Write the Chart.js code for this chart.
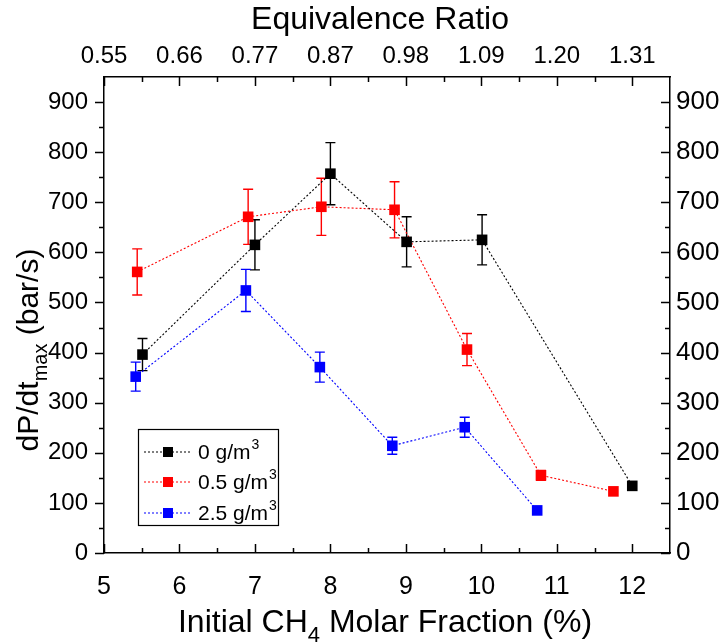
<!DOCTYPE html>
<html>
<head>
<meta charset="utf-8">
<title>dP/dt max vs CH4 fraction</title>
<script src="https://cdn.jsdelivr.net/npm/chart.js@4.4.0/dist/chart.umd.min.js"></script>
<style>
  body { margin: 0; background: #fff; }
  canvas { display: block; }
</style>
</head>
<body>
<canvas id="dpdt-chart" width="723" height="643"></canvas>
<script>
// data //
const xTicks = [5, 6, 7, 8, 9, 10, 11, 12];
const phiLabels = ['0.55', '0.66', '0.77', '0.87', '0.98', '1.09', '1.20', '1.31'];
const yTicks = [0, 100, 200, 300, 400, 500, 600, 700, 800, 900];

const seriesNames = ['0 g/m³', '0.5 g/m³', '2.5 g/m³'];

// 0 g/m3 coal dust
const dust0X = [5.51, 7.0, 8.0, 9.01, 10.01, 12.0];
const dust0Y = [396, 615, 757, 621, 625, 134];
const dust0Err = [32, 50, 62, 50, 50, 0];

// 0.5 g/m3
const dust05X = [5.44, 6.91, 7.88, 8.85, 9.81, 10.79, 11.75];
const dust05Y = [561, 671, 691, 685, 406, 155, 123];
const dust05Err = [46, 55, 57, 56, 32, 10, 0];

// 2.5 g/m3
const dust25X = [5.42, 6.88, 7.86, 8.82, 9.78, 10.74];
const dust25Y = [352, 524, 371, 214, 251, 85];
const dust25Err = [29, 42, 30, 17, 20, 0];

const FONT = '"Liberation Sans", Arial, sans-serif';

function toPoints(xs, ys) {
  return xs.map((x, i) => ({ x: x, y: ys[i] }));
}

function makeSeries(label, xs, ys, errs, color) {
  return {
    label: label,
    data: toPoints(xs, ys),
    errors: errs,
    borderColor: color,
    backgroundColor: color,
    borderWidth: 1.1,
    borderDash: [2, 2],
    pointStyle: 'rect',
    pointRadius: 7.5,
    pointHoverRadius: 7.5,
    pointBorderWidth: 0,
    showLine: true,
    tension: 0
  };
}

// helpers //
function drawRich(ctx, parts, x, y, size) {
  const small = Math.round(size * 0.68);
  let total = 0;
  parts.forEach(p => {
    ctx.font = (p[1] ? small : size) + 'px ' + FONT;
    total += ctx.measureText(p[0]).width;
  });
  let cx = x - total / 2;
  parts.forEach(p => {
    ctx.font = (p[1] ? small : size) + 'px ' + FONT;
    let dy = 0;
    if (p[1] === 'sub') dy = size * 0.3;
    if (p[1] === 'sup') dy = -size * 0.42;
    ctx.fillText(p[0], cx, y + dy);
    cx += ctx.measureText(p[0]).width;
  });
}

// error bars under the markers
const errorBars = {
  id: 'errorBars',
  beforeDatasetsDraw(chart) {
    const ctx = chart.ctx;
    const xs = chart.scales.x;
    const ys = chart.scales.y;
    ctx.save();
    chart.data.datasets.forEach(ds => {
      ctx.strokeStyle = ds.borderColor;
      ctx.lineWidth = 1.4;
      ds.data.forEach((pt, i) => {
        const e = ds.errors[i];
        if (!e) return;
        const px = xs.getPixelForValue(pt.x);
        const top = ys.getPixelForValue(pt.y + e);
        const bot = ys.getPixelForValue(pt.y - e);
        ctx.beginPath();
        ctx.moveTo(px, top); ctx.lineTo(px, bot);
        ctx.moveTo(px - 5, top); ctx.lineTo(px + 5, top);
        ctx.moveTo(px - 5, bot); ctx.lineTo(px + 5, bot);
        ctx.stroke();
      });
    });
    ctx.restore();
  }
};

// ticks, titles and the legend box
const decorations = {
  id: 'decorations',
  afterDraw(chart) {
    const ctx = chart.ctx;
    const area = chart.chartArea;
    const xs = chart.scales.x;
    const ys = chart.scales.y;
    ctx.save();
    ctx.strokeStyle = '#000';
    ctx.lineWidth = 1.5;
    ctx.beginPath();
    // x ticks, inward on top and bottom
    for (let v = xTicks[0]; v <= xTicks[xTicks.length - 1] + 0.01; v += 0.5) {
      const px = Math.round(xs.getPixelForValue(v)) + 0.5;
      const len = Number.isInteger(v) ? 9 : 5;
      ctx.moveTo(px, area.bottom); ctx.lineTo(px, area.bottom - len);
      ctx.moveTo(px, area.top); ctx.lineTo(px, area.top + len);
    }
    // y ticks, outward on left, inward on right
    for (let v = yTicks[0]; v <= yTicks[yTicks.length - 1]; v += 50) {
      const py = Math.round(ys.getPixelForValue(v)) + 0.5;
      const len = v % 100 === 0 ? 9 : 5;
      ctx.moveTo(area.left, py); ctx.lineTo(area.left - len, py);
      ctx.moveTo(area.right, py); ctx.lineTo(area.right - len, py);
    }
    ctx.stroke();

    // axis titles
    ctx.fillStyle = '#000';
    ctx.textAlign = 'left';
    ctx.textBaseline = 'alphabetic';
    drawRich(ctx, [['Initial CH'], ['4', 'sub'], [' Molar Fraction (%)']], 385, 632, 32);
    drawRich(ctx, [['Equivalence Ratio']], 380, 29, 32);
    ctx.save();
    ctx.translate(38, 350);
    ctx.rotate(-Math.PI / 2);
    drawRich(ctx, [['dP/dt'], ['max', 'sub'], [' (bar/s)']], 0, 0, 30);
    ctx.restore();

    // legend
    const lx = 138, ly = 429, lw = 140, lh = 96;
    ctx.fillStyle = '#fff';
    ctx.fillRect(lx, ly, lw, lh);
    ctx.lineWidth = 1.2;
    ctx.strokeStyle = '#000';
    ctx.strokeRect(lx + 0.5, ly + 0.5, lw, lh);
    const rowY = [452, 482, 513];
    chart.data.datasets.forEach((ds, i) => {
      const y = rowY[i];
      ctx.strokeStyle = ds.borderColor;
      ctx.lineWidth = 1.1;
      ctx.setLineDash([2, 2]);
      ctx.beginPath();
      ctx.moveTo(144, y); ctx.lineTo(191, y);
      ctx.stroke();
      ctx.setLineDash([]);
      ctx.fillStyle = ds.backgroundColor;
      ctx.fillRect(163, y - 5, 10, 10);
      ctx.fillStyle = '#000';
      const base = ds.label.replace('³', '');
      ctx.textAlign = 'left';
      ctx.font = '21px ' + FONT;
      ctx.fillText(base, 198, y + 7);
      const w = ctx.measureText(base).width;
      ctx.font = '14px ' + FONT;
      ctx.fillText('3', 198 + w + 1, y - 3);
    });
    ctx.restore();
  }
};

const tickFont = size => ({ family: FONT, size: size });

new Chart(document.getElementById('dpdt-chart'), {
  type: 'scatter',
  data: {
    datasets: [
      makeSeries(seriesNames[0], dust0X, dust0Y, dust0Err, '#000000'),
      makeSeries(seriesNames[1], dust05X, dust05Y, dust05Err, '#ff0000'),
      makeSeries(seriesNames[2], dust25X, dust25Y, dust25Err, '#0000ff')
    ]
  },
  options: {
    responsive: false,
    devicePixelRatio: 1,
    animation: false,
    layout: { padding: 0 },
    plugins: {
      legend: { display: false },
      tooltip: { enabled: false }
    },
    scales: {
      x: {
        type: 'linear',
        position: 'bottom',
        min: 5,
        max: 12.5,
        grid: { display: false, drawTicks: false },
        border: { display: true, color: '#000', width: 1.5 },
        afterBuildTicks: scale => { scale.ticks = xTicks.map(v => ({ value: v })); },
        afterFit: scale => { scale.height = 90; },
        ticks: { font: tickFont(25), color: '#000', padding: 19, maxRotation: 0, autoSkip: false }
      },
      x2: {
        type: 'linear',
        position: 'top',
        min: 5,
        max: 12.5,
        grid: { display: false, drawTicks: false },
        border: { display: true, color: '#000', width: 1.5 },
        afterBuildTicks: scale => { scale.ticks = xTicks.map(v => ({ value: v })); },
        afterFit: scale => { scale.height = 77; },
        ticks: {
          font: tickFont(24), color: '#000', padding: 6, maxRotation: 0, autoSkip: false,
          callback: (v, i) => phiLabels[i]
        }
      },
      y: {
        type: 'linear',
        position: 'left',
        min: 0,
        max: 950,
        grid: { display: false, drawTicks: false },
        border: { display: true, color: '#000', width: 1.5 },
        afterBuildTicks: scale => { scale.ticks = yTicks.map(v => ({ value: v })); },
        afterFit: scale => { scale.width = 104; },
        ticks: { font: tickFont(24), color: '#000', padding: 16 }
      },
      y2: {
        type: 'linear',
        position: 'right',
        min: 0,
        max: 950,
        grid: { display: false, drawTicks: false },
        border: { display: true, color: '#000', width: 1.5 },
        afterBuildTicks: scale => { scale.ticks = yTicks.map(v => ({ value: v })); },
        afterFit: scale => { scale.width = 53; },
        ticks: { font: tickFont(26), color: '#000', padding: 6 }
      }
    }
  },
  plugins: [errorBars, decorations]
});
</script>
</body>
</html>
